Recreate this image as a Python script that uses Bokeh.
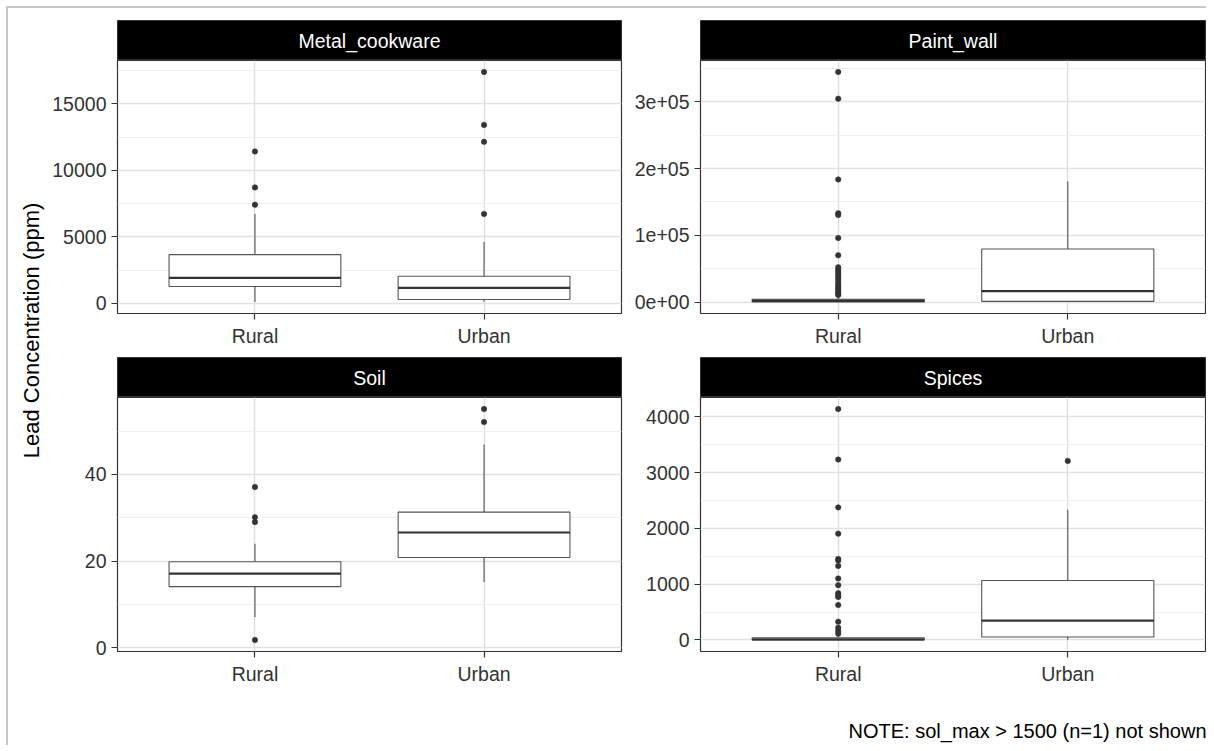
import math
from bokeh.plotting import figure
from bokeh.layouts import row, column
from bokeh.models import Range1d, FixedTicker
from bokeh.embed import file_html
from bokeh.resources import INLINE
from bokeh.core.properties import value

FONT = "Liberation Sans"

groups = ["Rural", "Urban"]

# ---- Metal_cookware ----
metal_lower = [110, 120]
metal_q1 = [1275, 300]
metal_median = [1925, 1175]
metal_q3 = [3675, 2050]
metal_upper = [6725, 4625]
metal_out_rural = [11425, 8725, 7425]
metal_out_urban = [17400, 13425, 12150, 6725]
metal_ticks = [0, 5000, 10000, 15000]
metal_minor = [2500, 7500, 12500, 17500]
metal_labels = ["0", "5000", "10000", "15000"]

# ---- Paint_wall ----
paint_lower = [0, 200]
paint_q1 = [100, 1000]
paint_median = [1500, 16300]
paint_q3 = [4000, 79500]
paint_upper = [9500, 180700]
paint_out_rural = [344700, 304700, 183700, 132900, 130400, 95800, 70000,
                   52000, 48500, 45000, 41500, 38000, 35000, 31000, 27000,
                   24000, 21000, 18000, 15000, 12500, 10500]
paint_out_urban = []
paint_ticks = [0, 100000, 200000, 300000]
paint_minor = [50000, 150000, 250000, 350000]
paint_labels = ["0e+00", "1e+05", "2e+05", "3e+05"]

# ---- Soil ----
soil_lower = [7.1, 15.2]
soil_q1 = [14.1, 20.85]
soil_median = [17.1, 26.6]
soil_q3 = [19.85, 31.3]
soil_upper = [24.0, 46.9]
soil_out_rural = [37.1, 30.1, 29.0, 1.8]
soil_out_urban = [55.1, 52.1]
soil_ticks = [0, 20, 40]
soil_minor = [10, 30, 50]
soil_labels = ["0", "20", "40"]

# ---- Spices ----
spices_lower = [0, 5]
spices_q1 = [2, 54]
spices_median = [12, 345]
spices_q3 = [40, 1065]
spices_upper = [95, 2333]
spices_out_rural = [4137, 3232, 2375, 1905, 1452, 1423, 1327, 1101, 982,
                    839, 800, 770, 625, 327, 220, 161, 113]
spices_out_urban = [3208]
spices_ticks = [0, 1000, 2000, 3000, 4000]
spices_minor = [500, 1500, 2500, 3500]
spices_labels = ["0", "1000", "2000", "3000", "4000"]

y_title = "Lead Concentration (ppm)"
note = "NOTE: sol_max > 1500 (n=1) not shown"

TICK_COLOR = "#333333"
LABEL_SIZE = "19.5px"


def make_strip(label, width, height, bl, br, bt):
    s = figure(width=width, height=height, x_range=Range1d(0, 1), y_range=Range1d(0, 1),
               x_axis_location=None, y_axis_location=None, toolbar_location=None,
               output_backend="svg", min_border_left=bl, min_border_right=br,
               min_border_top=bt, min_border_bottom=0,
               background_fill_color="black", outline_line_color="#333333")
    s.grid.grid_line_color = None
    s.text(x=[0.5], y=[0.5], text=[label], text_color="white", text_align="center",
           text_baseline="middle", text_font=value(FONT), text_font_size=LABEL_SIZE)
    return s


def make_panel(lower, q1, med, q3, upper, outs, ticks, minor, labels,
               width, height, bl, br, bb):
    pos = [i + 1 for i in range(len(groups))]
    allv = list(lower) + list(upper) + [v for o in outs for v in o]
    lo, hi = min(allv), max(allv)
    pad = 0.05 * (hi - lo)
    p = figure(width=width, height=height, x_range=Range1d(0.4, len(groups) + 0.6),
               y_range=Range1d(lo - pad, hi + pad), toolbar_location=None,
               output_backend="svg", min_border_left=bl, min_border_right=br,
               min_border_top=0, min_border_bottom=bb,
               background_fill_color="white", outline_line_color="#333333",
               outline_line_width=1.2)
    xt = FixedTicker(ticks=pos)
    yt = FixedTicker(ticks=ticks, minor_ticks=minor)
    p.xaxis.ticker = xt
    p.yaxis.ticker = yt
    p.xgrid.ticker = xt
    p.ygrid.ticker = yt
    p.xaxis.major_label_overrides = {pp: g for pp, g in zip(pos, groups)}
    p.yaxis.major_label_overrides = {t: l for t, l in zip(ticks, labels)}
    for ax in (p.xaxis, p.yaxis):
        ax.axis_line_color = None
        ax.major_tick_line_color = TICK_COLOR
        ax.major_tick_line_width = 1.2
        ax.major_tick_out = 6
        ax.major_tick_in = 0
        ax.minor_tick_line_color = None
        ax.major_label_standoff = 5
        ax.major_label_text_font = FONT
        ax.major_label_text_font_size = LABEL_SIZE
        ax.major_label_text_color = TICK_COLOR
    p.xgrid.grid_line_color = "#dedede"
    p.xgrid.grid_line_width = 1.4
    p.ygrid.grid_line_color = "#e2e2e2"
    p.ygrid.grid_line_width = 1.4
    p.ygrid.minor_grid_line_color = "#efefef"
    p.ygrid.minor_grid_line_width = 1

    bw = 0.75
    box_color = "#555555"
    # whiskers
    p.segment(x0=pos, y0=q3, x1=pos, y1=upper, line_color=box_color, line_width=1.1)
    p.segment(x0=pos, y0=q1, x1=pos, y1=lower, line_color=box_color, line_width=1.1)
    # boxes
    p.vbar(x=pos, width=bw, bottom=q1, top=q3, fill_color="white",
           line_color=box_color, line_width=1.1)
    # medians
    p.segment(x0=[x - bw / 2 for x in pos], y0=med, x1=[x + bw / 2 for x in pos], y1=med,
              line_color="#333333", line_width=2.2)
    # outliers
    for x, o in zip(pos, outs):
        if o:
            p.scatter(x=[x] * len(o), y=o, size=5.5, fill_color="#333333",
                      line_color="#333333", line_width=0.5)
    return p


YW = 40
W1, W2 = 578, 580
s1 = make_strip("Metal_cookware", W1, 52, 69, 5, 12)
p1 = make_panel(metal_lower, metal_q1, metal_median, metal_q3, metal_upper,
                [metal_out_rural, metal_out_urban], metal_ticks, metal_minor, metal_labels,
                W1, 297, 69, 5, 44)
s2 = make_strip("Paint_wall", W2, 52, 74, 1, 12)
p2 = make_panel(paint_lower, paint_q1, paint_median, paint_q3, paint_upper,
                [paint_out_rural, paint_out_urban], paint_ticks, paint_minor, paint_labels,
                W2, 297, 74, 1, 44)
s3 = make_strip("Soil", W1, 40, 69, 5, 0)
p3 = make_panel(soil_lower, soil_q1, soil_median, soil_q3, soil_upper,
                [soil_out_rural, soil_out_urban], soil_ticks, soil_minor, soil_labels,
                W1, 293, 69, 5, 39)
s4 = make_strip("Spices", W2, 40, 74, 1, 0)
p4 = make_panel(spices_lower, spices_q1, spices_median, spices_q3, spices_upper,
                [spices_out_rural, spices_out_urban], spices_ticks, spices_minor, spices_labels,
                W2, 293, 74, 1, 39)

H = 52 + 297 + 40 + 293
ylab = figure(width=YW, height=H, x_range=Range1d(0, 1), y_range=Range1d(0, 1),
              x_axis_location=None, y_axis_location=None, toolbar_location=None,
              output_backend="svg", min_border=0, outline_line_color=None)
ylab.grid.grid_line_color = None
ylab.text(x=[0.58], y=[0.528], text=[y_title], angle=math.pi / 2, text_align="center",
          text_baseline="middle", text_font=value(FONT), text_font_size="22px",
          text_color="black")

notef = figure(width=YW + W1 + W2, height=55, x_range=Range1d(0, 1), y_range=Range1d(0, 1),
               x_axis_location=None, y_axis_location=None, toolbar_location=None,
               output_backend="svg", min_border=0, outline_line_color=None)
notef.grid.grid_line_color = None
notef.text(x=[1.0], y=[0.26], text=[note], text_align="right", text_baseline="middle",
           text_font=value(FONT), text_font_size="20px", text_color="black")

grid = row(ylab, column(s1, p1, s3, p3), column(s2, p2, s4, p4))
layout = column(grid, notef, margin=(6, 0, 0, 6),
                styles={"border-top": "2px solid #c8c8c8", "border-left": "2px solid #c8c8c8"})

open("out.html", "w").write(file_html(layout, INLINE))
